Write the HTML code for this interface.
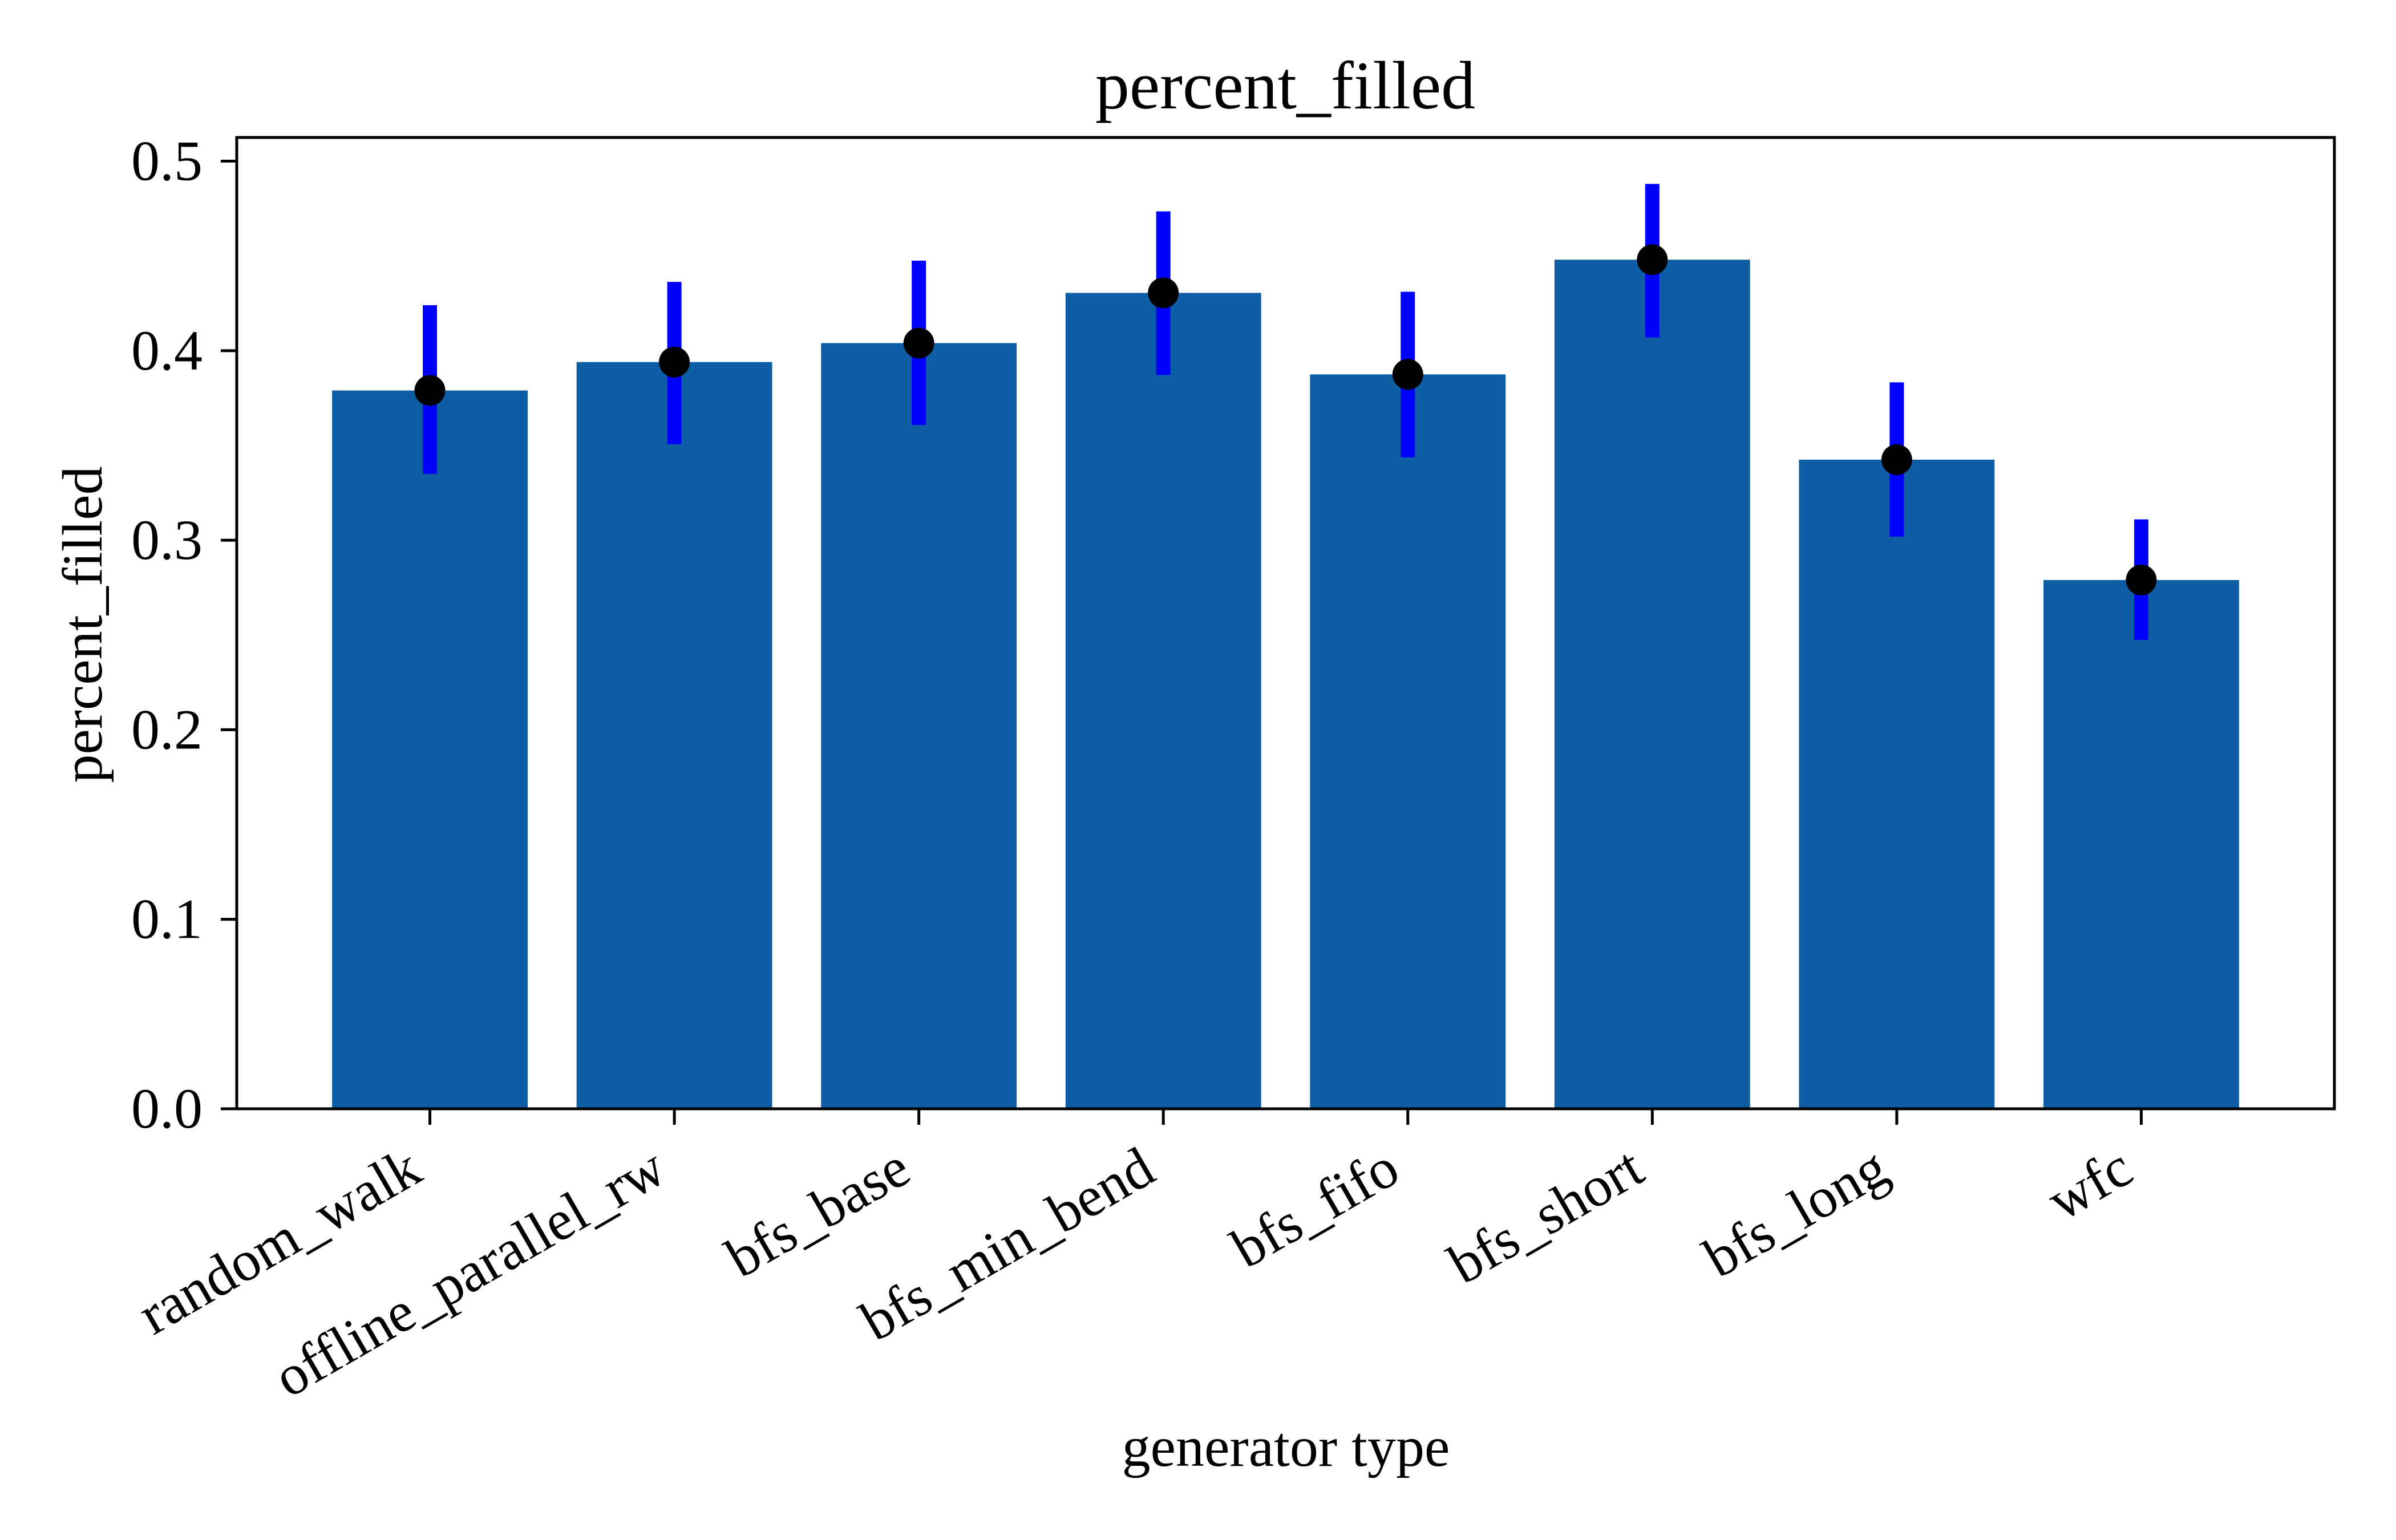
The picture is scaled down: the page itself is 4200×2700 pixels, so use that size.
<!DOCTYPE html>
<html><head><meta charset="utf-8"><style>
html,body{margin:0;padding:0;background:#fff;}
svg{display:block;font-family:"Liberation Serif",serif;}
</style></head><body>
<svg id="chart" width="4200" height="2700" viewBox="0 0 4200 2700" xmlns="http://www.w3.org/2000/svg">
<rect x="0" y="0" width="4200" height="2700" fill="#fff"/>
<text x="2253" y="190" font-size="120" text-anchor="middle">percent_filled</text>
<g id="plot"></g>
<text x="2254" y="2570" font-size="100" text-anchor="middle">generator type</text>
<text transform="translate(178,1095) rotate(-90)" font-size="100" text-anchor="middle">percent_filled</text>
</svg>
<script>
const categories = ["random_walk","offline_parallel_rw","bfs_base","bfs_min_bend","bfs_fifo","bfs_short","bfs_long","wfc"];
const values = [0.379, 0.394, 0.404, 0.4305, 0.3875, 0.448, 0.3425, 0.279];
const errLow = [0.335, 0.3506, 0.3608, 0.3872, 0.3437, 0.407, 0.3019, 0.2474];
const errHigh = [0.424, 0.4363, 0.4475, 0.4735, 0.4311, 0.488, 0.3833, 0.311];
const yTicks = [0.0, 0.1, 0.2, 0.3, 0.4, 0.5];
const yTickLabels = ["0.0","0.1","0.2","0.3","0.4","0.5"];

const NS = "http://www.w3.org/2000/svg";
const L = 415, R = 4092, T = 241, B = 1944;
const xMin = -0.79, xMax = categories.length - 1 + 0.79;
const yMin = 0, yMax = 0.5125;
function xs(i){ return L + (i - xMin) / (xMax - xMin) * (R - L); }
function ys(v){ return B - (v - yMin) / (yMax - yMin) * (B - T); }
const plot = document.getElementById('plot');
function mk(tag, attrs){ const e = document.createElementNS(NS, tag); for (const k in attrs) e.setAttribute(k, attrs[k]); plot.appendChild(e); return e; }

const step = xs(1) - xs(0);
const bw = step * 0.8;
categories.forEach((c, i) => {
  const b = mk('rect', {x: xs(i) - bw/2, y: ys(values[i]), width: bw, height: ys(0) - ys(values[i]), fill: '#0e5ea6'});
  
  
});
categories.forEach((c, i) => {
  const e = mk('rect', {x: xs(i) - 12.5, y: ys(errHigh[i]), width: 25, height: ys(errLow[i]) - ys(errHigh[i]), fill: '#0000ff'});
  
  
  const m = mk('circle', {cx: xs(i), cy: ys(values[i]), r: 27, fill: '#000'});
  
  
});
const frame = mk('rect', {x: L, y: T, width: R - L, height: B - T, fill: 'none', stroke: '#000', 'stroke-width': 5});


yTicks.forEach((v, i) => {
  const t = mk('line', {x1: L - 28, x2: L, y1: ys(v), y2: ys(v), stroke: '#000', 'stroke-width': 5});
  
  
  const lb = mk('text', {x: L - 60, y: ys(v) + 33, 'font-size': 100, 'text-anchor': 'end'});
  lb.textContent = yTickLabels[i];
  
  
});
categories.forEach((c, i) => {
  const t = mk('line', {x1: xs(i), x2: xs(i), y1: B, y2: B + 28, stroke: '#000', 'stroke-width': 5});
  
  
  const px = xs(i) - 9, py = 2067;
  const lb = mk('text', {x: px, y: py, 'font-size': 100, 'text-anchor': 'end', transform: 'rotate(-30 ' + px + ' ' + py + ')'});
  lb.textContent = c;
  
  
});
</script>
</body></html>
